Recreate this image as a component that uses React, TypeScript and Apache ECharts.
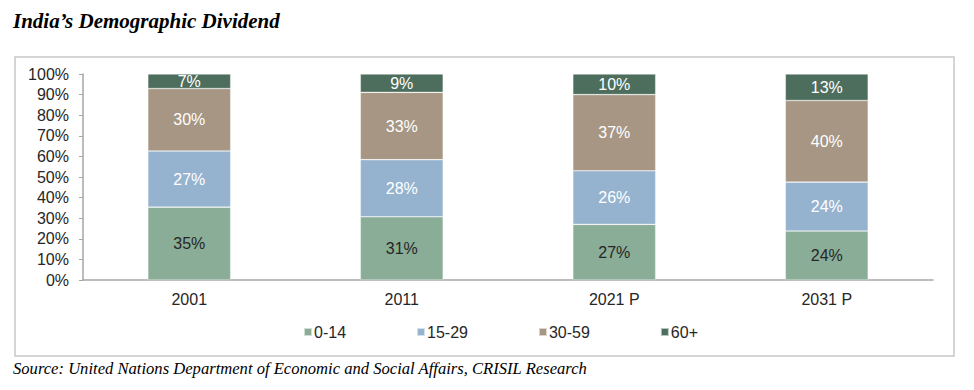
import React, { useEffect, useRef } from "react";
import * as echarts from "echarts";

const categories = ["2001", "2011", "2021 P", "2031 P"];
const seriesNames = ["0-14", "15-29", "30-59", "60+"];
const age0to14 = [35, 31, 27, 24];
const age15to29 = [27, 28, 26, 24];
const age30to59 = [30, 33, 37, 40];
const age60plus = [7, 9, 10, 13];
const yTicks = [0, 10, 20, 30, 40, 50, 60, 70, 80, 90, 100];

const colors = ["#8aad97", "#95b3cf", "#a69683", "#4e6e5d"];
const labelColors = ["#262626", "#ffffff", "#ffffff", "#ffffff"];

export default function App() {
  const ref = useRef<HTMLDivElement>(null);
  useEffect(() => {
    if (!ref.current) return;
    const chart = echarts.init(ref.current, null, { renderer: "svg" });
    const raw = [age0to14, age15to29, age30to59, age60plus];
    const totals = categories.map((_, i) => raw.reduce((s, arr) => s + arr[i], 0));
    const series = raw.map((arr, si) => ({
      name: seriesNames[si],
      type: "bar",
      stack: "total",
      barWidth: "39%",
      data: arr.map((v, i) => ({ value: (v / totals[i]) * 100, raw: v })),
      itemStyle: { color: colors[si], borderColor: "rgba(255,255,255,0.6)", borderWidth: 0.6 },
      label: {
        show: true,
        position: "inside",
        color: labelColors[si],
        fontFamily: "Arial, Liberation Sans, sans-serif",
        fontSize: 16,
        formatter: (p: any) => `${p.data.raw}%`,
      },
    }));
    chart.setOption({
      animation: false,
      color: colors,
      title: {
        text: "India\u2019s Demographic Dividend",
        left: 0,
        top: -3,
        textStyle: {
          fontFamily: "Liberation Serif, Times New Roman, serif",
          fontStyle: "italic",
          fontWeight: "bold",
          fontSize: 21,
          color: "#000",
        },
      },
      graphic: [
        {
          type: "rect",
          shape: { x: 7, y: 49, width: 939, height: 299 },
          style: { fill: "none", stroke: "#c8c8c8", lineWidth: 1.5 },
          silent: true,
        },
        {
          type: "text",
          left: 5,
          top: 352,
          style: {
            text: "Source: United Nations Department of Economic and Social Affairs, CRISIL Research",
            fontFamily: "Liberation Serif, Times New Roman, serif",
            fontStyle: "italic",
            fontSize: 16.6,
            fill: "#000",
          },
        },
      ],
      legend: {
        data: seriesNames,
        bottom: 45,
        left: 290,
        itemWidth: 8,
        itemHeight: 8,
        itemGap: 70,
        icon: "rect",
        textStyle: {
          fontFamily: "Arial, Liberation Sans, sans-serif",
          fontSize: 16,
          color: "#262626",
          padding: [0, 0, 0, -3],
        },
      },
      grid: { left: 75, right: 33, top: 66, bottom: 110, containLabel: false },
      xAxis: {
        type: "category",
        data: categories,
        axisLine: { lineStyle: { color: "#a6a6a6", width: 1.5 } },
        axisTick: { show: false },
        axisLabel: {
          fontFamily: "Arial, Liberation Sans, sans-serif",
          fontSize: 16,
          color: "#262626",
          margin: 11,
        },
      },
      yAxis: {
        type: "value",
        min: yTicks[0],
        max: yTicks[yTicks.length - 1],
        interval: 10,
        splitLine: { show: false },
        axisLine: { show: true, lineStyle: { color: "#a6a6a6", width: 1.5 } },
        axisTick: { show: true, length: 4, lineStyle: { color: "#a6a6a6" } },
        axisLabel: {
          fontFamily: "Arial, Liberation Sans, sans-serif",
          fontSize: 16,
          color: "#262626",
          margin: 14,
          formatter: (v: number) => `${v}%`,
        },
      },
      series,
    });
    return () => chart.dispose();
  }, []);
  return <div ref={ref} style={{ width: 958, height: 382 }} />;
}
